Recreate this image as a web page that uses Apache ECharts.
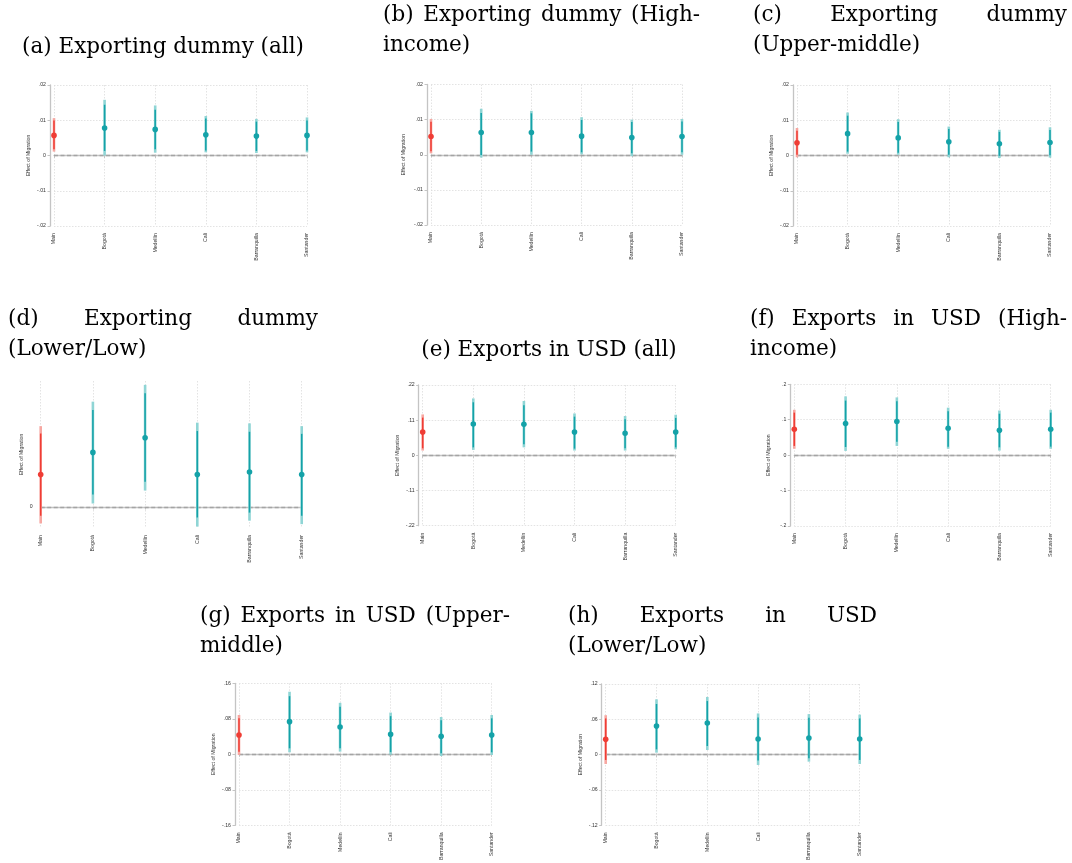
<!DOCTYPE html>
<html><head><meta charset="utf-8">
<script src="https://cdn.jsdelivr.net/npm/echarts@6/dist/echarts.min.js"></script>
<style>html,body{margin:0;padding:0;background:#fff}#c{width:1072px;height:863px}</style>
</head><body><div id="c"></div>
<script>
// ---------- DATA ----------
const categories = ['Main', 'Bogotá', 'Medellín', 'Cali', 'Barranquilla', 'Santander'];
const yAxisTitle = 'Effect of Migration';

// (a) Exporting dummy (all)
const aEst  = [0.0057, 0.0078, 0.0074, 0.0059, 0.0055, 0.0057];
const aLo95 = [0.0011, 0.0000, 0.0008, 0.0009, 0.0007, 0.0009];
const aHi95 = [0.0106, 0.0158, 0.0142, 0.0112, 0.0104, 0.0108];
const aLo90 = [0.0018, 0.0013, 0.0018, 0.0014, 0.0013, 0.0014];
const aHi90 = [0.0099, 0.0144, 0.0130, 0.0105, 0.0096, 0.0099];
const aTicks = [-0.02, -0.01, 0, 0.01, 0.02];

// (b) Exporting dummy (High-income)
const bEst  = [0.0052, 0.0063, 0.0063, 0.0053, 0.0049, 0.0052];
const bLo95 = [0.0004, -0.0008, 0.0000, 0.0001, -0.0004, 0.0000];
const bHi95 = [0.0102, 0.0131, 0.0125, 0.0107, 0.0100, 0.0102];
const bLo90 = [0.0010, -0.0001, 0.0009, 0.0007, 0.0004, 0.0007];
const bHi90 = [0.0094, 0.0119, 0.0118, 0.0099, 0.0093, 0.0095];
const bTicks = [-0.02, -0.01, 0, 0.01, 0.02];

// (c) Exporting dummy (Upper-middle)
const cEst  = [0.0036, 0.0062, 0.0050, 0.0039, 0.0033, 0.0037];
const cLo95 = [-0.0005, 0.0005, 0.0002, -0.0005, -0.0007, -0.0006];
const cHi95 = [0.0078, 0.0122, 0.0103, 0.0082, 0.0073, 0.0080];
const cLo90 = [0.0002, 0.0011, 0.0008, 0.0002, -0.0001, 0.0001];
const cHi90 = [0.0070, 0.0113, 0.0095, 0.0075, 0.0067, 0.0072];
const cTicks = [-0.02, -0.01, 0, 0.01, 0.02];

// (d) Exporting dummy (Lower/Low)  (only the 0 tick is labelled)
const dEst  = [0.0093, 0.0156, 0.0198, 0.0093, 0.0100, 0.0093];
const dLo95 = [-0.0047, 0.0010, 0.0047, -0.0056, -0.0039, -0.0049];
const dHi95 = [0.0231, 0.0301, 0.0349, 0.0241, 0.0239, 0.0231];
const dLo90 = [-0.0025, 0.0036, 0.0072, -0.0030, -0.0016, -0.0025];
const dHi90 = [0.0210, 0.0277, 0.0325, 0.0217, 0.0215, 0.0209];
const dTicks = [0];
const dRange = [-0.006, 0.036];

// (e) Exports in USD (all)
const eEst  = [0.073, 0.098, 0.097, 0.073, 0.069, 0.073];
const eLo95 = [0.015, 0.017, 0.025, 0.015, 0.015, 0.019];
const eHi95 = [0.128, 0.178, 0.170, 0.131, 0.123, 0.127];
const eLo90 = [0.022, 0.025, 0.035, 0.021, 0.022, 0.025];
const eHi90 = [0.118, 0.166, 0.157, 0.121, 0.113, 0.117];
const eTicks = [-0.22, -0.11, 0, 0.11, 0.22];

// (f) Exports in USD (High-income)
const fEst  = [0.073, 0.089, 0.095, 0.076, 0.070, 0.073];
const fLo95 = [0.018, 0.012, 0.026, 0.018, 0.013, 0.018];
const fHi95 = [0.128, 0.166, 0.163, 0.134, 0.126, 0.128];
const fLo90 = [0.026, 0.023, 0.038, 0.024, 0.022, 0.024];
const fHi90 = [0.120, 0.154, 0.152, 0.124, 0.117, 0.120];
const fTicks = [-0.2, -0.1, 0, 0.1, 0.2];

// (g) Exports in USD (Upper-middle)
const gEst  = [0.0436, 0.0736, 0.0616, 0.0450, 0.0406, 0.0436];
const gLo95 = [-0.0015, 0.0045, 0.0060, -0.0008, -0.0038, -0.0015];
const gHi95 = [0.0886, 0.1410, 0.1160, 0.0940, 0.0840, 0.0886];
const gLo90 = [0.0060, 0.0135, 0.0135, 0.0050, 0.0023, 0.0045];
const gHi90 = [0.0810, 0.1310, 0.1070, 0.0860, 0.0770, 0.0810];
const gTicks = [-0.16, -0.08, 0, 0.08, 0.16];

// (h) Exports in USD (Lower/Low)
const hEst  = [0.0260, 0.0486, 0.0536, 0.0265, 0.0282, 0.0265];
const hLo95 = [-0.0158, 0.0034, 0.0079, -0.0175, -0.0119, -0.0158];
const hHi95 = [0.0670, 0.0940, 0.0980, 0.0700, 0.0689, 0.0680];
const hLo90 = [-0.0090, 0.0090, 0.0147, -0.0100, -0.0062, -0.0090];
const hHi90 = [0.0615, 0.0860, 0.0910, 0.0630, 0.0627, 0.0615];
const hTicks = [-0.12, -0.06, 0, 0.06, 0.12];

// ---------- LAYOUT ----------
const panels = [
  {est:aEst, lo95:aLo95, hi95:aHi95, lo90:aLo90, hi90:aHi90, ticks:aTicks,
   grid:{left:54, top:85, width:253, height:141}, nameGap:19},
  {est:bEst, lo95:bLo95, hi95:bHi95, lo90:bLo90, hi90:bHi90, ticks:bTicks,
   grid:{left:431, top:84.5, width:251, height:140.5}, nameGap:21},
  {est:cEst, lo95:cLo95, hi95:cHi95, lo90:cLo90, hi90:cHi90, ticks:cTicks,
   grid:{left:797, top:85, width:253, height:141}, nameGap:19},
  {est:dEst, lo95:dLo95, hi95:dHi95, lo90:dLo90, hi90:dHi90, ticks:dTicks, range:dRange,
   grid:{left:40.7, top:381, width:261, height:147}, nameGap:13, bare:true},
  {est:eEst, lo95:eLo95, hi95:eHi95, lo90:eLo90, hi90:eHi90, ticks:eTicks,
   grid:{left:422.7, top:385, width:253, height:140.7}, nameGap:19},
  {est:fEst, lo95:fLo95, hi95:fHi95, lo90:fLo90, hi90:fHi90, ticks:fTicks,
   grid:{left:794.3, top:384.3, width:256.4, height:141.7}, nameGap:19},
  {est:gEst, lo95:gLo95, hi95:gHi95, lo90:gLo90, hi90:gHi90, ticks:gTicks,
   grid:{left:239, top:683.3, width:252.7, height:142}, nameGap:19},
  {est:hEst, lo95:hLo95, hi95:hHi95, lo90:hLo90, hi90:hHi90, ticks:hTicks,
   grid:{left:605.7, top:684, width:254, height:141.7}, nameGap:19}
];

const titles = [
  {lines:['(a) Exporting dummy (all)'], center:163, y:47},
  {lines:['(b) Exporting dummy (High-', 'income)'], left:383, right:700, y:15},
  {lines:['(c) Exporting dummy', '(Upper-middle)'], left:753, right:1067, y:15},
  {lines:['(d) Exporting dummy', '(Lower/Low)'], left:8, right:318, y:319},
  {lines:['(e) Exports in USD (all)'], center:549, y:350},
  {lines:['(f) Exports in USD (High-', 'income)'], left:750, right:1067, y:319},
  {lines:['(g) Exports in USD (Upper-', 'middle)'], left:200, right:510, y:616},
  {lines:['(h) Exports in USD', '(Lower/Low)'], left:568, right:877, y:616}
];

const TEAL = '#14a2a8', TEAL_L = '#8fd5d5', RED = '#ef3d35', RED_L = '#f7a7a1';
const GRID_C = '#dcdcdc', AXIS_C = '#c4c4c4', TXT = '#333';
const titleFont = '21.5px "DejaVu Serif"';
const lineGap = 30;

function fmtTick(v) {
  if (Math.abs(v) < 1e-12) return '0';
  return String(+v.toFixed(4)).replace('0.', '.');
}

const ctx = document.createElement('canvas').getContext('2d');
ctx.font = titleFont;
function wordEls(text, x0, x1, y, justify) {
  const words = text.split(' ');
  const ws = words.map(w => ctx.measureText(w).width);
  const total = ws.reduce((a, b) => a + b, 0);
  const space = ctx.measureText(' ').width;
  const gap = (justify && words.length > 1) ? (x1 - x0 - total) / (words.length - 1) : space;
  const els = [];
  let x = x0;
  words.forEach((w, k) => {
    els.push({type:'text', x:x, y:y, silent:true,
      style:{text:w, font:titleFont, fill:'#000', textAlign:'left', textVerticalAlign:'middle'}});
    x += ws[k] + gap;
  });
  return els;
}
const graphics = [];
titles.forEach(t => {
  if (t.lines.length === 1) {
    graphics.push({type:'text', x:t.center, y:t.y, silent:true,
      style:{text:t.lines[0], font:titleFont, fill:'#000', textAlign:'center', textVerticalAlign:'middle'}});
  } else {
    graphics.push(...wordEls(t.lines[0], t.left, t.right, t.y, true));
    graphics.push(...wordEls(t.lines[1], t.left, t.right, t.y + lineGap, false));
  }
});

function renderItem(params, api) {
  const i = api.value(0);
  const p = api.coord([i, api.value(1)]);
  const l95 = api.coord([i, api.value(2)]);
  const h95 = api.coord([i, api.value(3)]);
  const l90 = api.coord([i, api.value(4)]);
  const h90 = api.coord([i, api.value(5)]);
  const main = categories[i] === 'Main';
  const dark = main ? RED : TEAL, light = main ? RED_L : TEAL_L;
  return {type:'group', children:[
    {type:'line', shape:{x1:p[0], y1:l95[1], x2:p[0], y2:h95[1]}, style:{stroke:light, lineWidth:2.6}},
    {type:'line', shape:{x1:p[0], y1:l90[1], x2:p[0], y2:h90[1]}, style:{stroke:dark, lineWidth:1.5}},
    {type:'circle', shape:{cx:p[0], cy:p[1], r:2.8}, style:{fill:dark}}
  ]};
}

const grid = [], xAxis = [], yAxis = [], series = [];
panels.forEach((pn, k) => {
  grid.push(Object.assign({containLabel:false}, pn.grid));
  xAxis.push({
    type:'category', gridIndex:k, data:categories, boundaryGap:false, offset:4,
    axisLine:{show:true, lineStyle:{color:AXIS_C, width:1.3}},
    axisTick:{show:true, length:2.5, alignWithLabel:true, lineStyle:{color:AXIS_C}},
    axisLabel:{rotate:90, fontSize:5.2, color:TXT, margin:3, fontFamily:'Liberation Sans', interval:0},
    splitLine:{show:true, lineStyle:{color:GRID_C, type:[1.5,1.5], width:0.8}}
  });
  const ticks = pn.ticks;
  const min = pn.range ? pn.range[0] : ticks[0];
  const max = pn.range ? pn.range[1] : ticks[ticks.length - 1];
  const interval = pn.range ? 0.006 : ticks[1] - ticks[0];
  yAxis.push({
    type:'value', gridIndex:k, min:min, max:max, interval:interval, offset:4,
    name:yAxisTitle, nameLocation:'middle', nameRotate:90, nameGap:pn.nameGap,
    nameTextStyle:{fontSize:5.2, color:TXT, fontFamily:'Liberation Sans'},
    axisLine:{show:!pn.bare, lineStyle:{color:AXIS_C, width:1.3}},
    axisTick:{show:!pn.bare, length:2.5, lineStyle:{color:AXIS_C}},
    axisLabel:{fontSize:5.2, color:TXT, margin:4, fontFamily:'Liberation Sans',
      formatter: v => {
        const hit = ticks.some(t => Math.abs(t - v) < 1e-9);
        return hit ? fmtTick(v) : '';
      }},
    splitLine:{show:!pn.bare, lineStyle:{color:GRID_C, type:[1.5,1.5], width:0.8}}
  });
  const data = categories.map((c, i) => [i, pn.est[i], pn.lo95[i], pn.hi95[i], pn.lo90[i], pn.hi90[i]]);
  series.push({
    type:'custom', xAxisIndex:k, yAxisIndex:k, renderItem:renderItem, data:data, clip:false,
    encode:{x:0, y:[1,2,3,4,5]}, z:3,
    markLine:{silent:true, symbol:'none', label:{show:false}, z:2,
      lineStyle:{color:'#a4a4a4', type:[4,2.5], width:1.3}, data:[{yAxis:0}]}
  });
});

const chart = echarts.init(document.getElementById('c'), null, {renderer:'canvas'});
chart.setOption({
  backgroundColor:'#fff', animation:false,
  grid:grid, xAxis:xAxis, yAxis:yAxis, series:series, graphic:graphics
});
</script>
</body></html>
